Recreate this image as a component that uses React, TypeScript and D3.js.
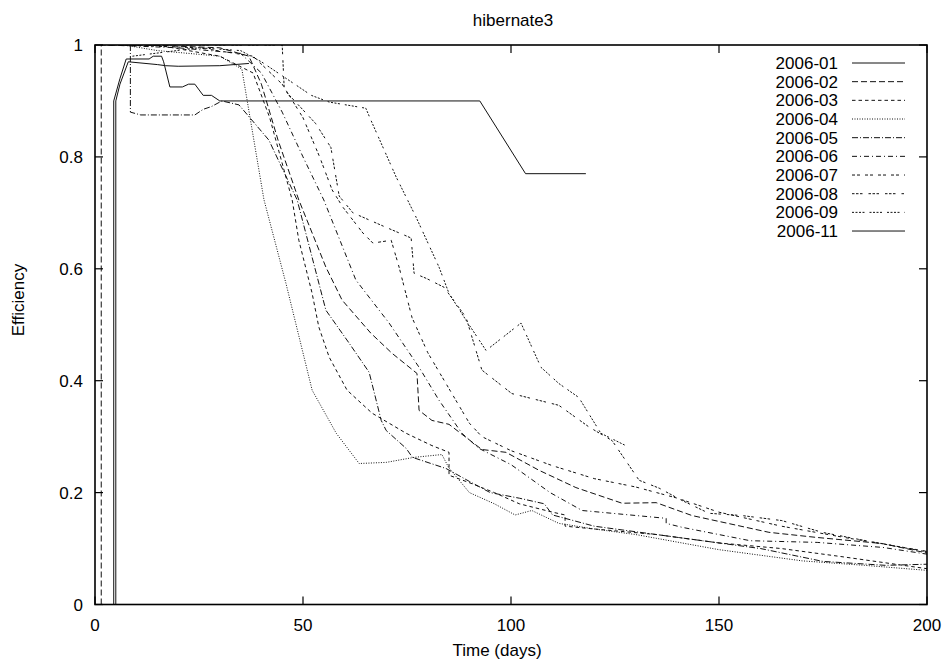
import React from "react";
import * as d3 from "d3";

const seriesNames = ["2006-01","2006-02","2006-03","2006-04","2006-05","2006-06","2006-07","2006-08","2006-09","2006-11"];

const s01: [number, number][] = [[5,0],[5,0.9],[6,0.93],[8,0.97],[15,0.965],[17,0.963],[20,0.962],[30,0.963],[37,0.967]];
const s02: [number, number][] = [[1.5,0],[1.5,1],[12,1],[30,0.995],[37,0.98],[40,0.93],[44,0.83],[49,0.723],[55.5,0.603],[59.4,0.544],[66.3,0.485],[71.4,0.449],[77.4,0.413],[77.9,0.347],[81,0.329],[85.1,0.322],[93,0.277],[98.8,0.272],[106.7,0.24],[115.6,0.209],[126.7,0.181],[134.9,0.182],[143.5,0.159],[162,0.129],[173.3,0.12],[189.2,0.109],[200,0.092]];
const s03: [number, number][] = [[4,1],[15,1],[30,0.98],[38,0.95],[42,0.87],[47.4,0.723],[49,0.651],[52.2,0.556],[53.8,0.496],[56.3,0.442],[60.6,0.383],[66.6,0.342],[74.8,0.306],[81,0.284],[85.1,0.272],[85.1,0.231],[89.9,0.218],[96,0.2],[102,0.18],[110,0.165],[113,0.16],[113,0.14],[120,0.135],[135,0.125],[150,0.11],[165,0.1],[180,0.085],[200,0.064]];
const s04: [number, number][] = [[7,1],[15,0.99],[30,0.98],[35.3,0.957],[40.6,0.724],[45.9,0.574],[52.2,0.383],[58,0.306],[63.5,0.252],[70,0.254],[76.7,0.263],[83.4,0.268],[85,0.245],[90,0.2],[96,0.18],[101,0.16],[105,0.168],[111.5,0.145],[120,0.135],[130,0.125],[150,0.098],[170,0.078],[185,0.07],[200,0.061]];
const s05: [number, number][] = [[8.5,1],[8.5,0.88],[11,0.875],[24,0.875],[26,0.885],[28,0.89],[30.5,0.9],[34.6,0.893],[41.8,0.83],[48.6,0.723],[55.5,0.526],[61.1,0.467],[65.9,0.415],[68.8,0.329],[70,0.311],[74.8,0.279],[76.3,0.263],[84.4,0.243],[90,0.22],[95,0.2],[102,0.19],[108,0.18],[110,0.16],[120,0.14],[130,0.13],[145,0.115],[160,0.1],[175,0.077],[190,0.07],[200,0.072]];
const s06: [number, number][] = [[3,1],[20,0.995],[35,0.985],[40,0.95],[45,0.88],[50,0.8],[55,0.723],[62.7,0.58],[70.7,0.503],[77.9,0.424],[82.7,0.365],[88.2,0.306],[92.3,0.279],[100,0.25],[109.4,0.2],[117.1,0.168],[137.3,0.154],[137.3,0.145],[141.1,0.138],[157.5,0.114],[173.6,0.111],[189.4,0.102],[200,0.09]];
const s07: [number, number][] = [[6,1],[25,0.995],[38,0.98],[45,0.93],[50,0.87],[54,0.8],[57,0.741],[59.6,0.71],[64.4,0.664],[66.8,0.646],[71.2,0.651],[73.1,0.603],[76.2,0.513],[80,0.45],[90,0.324],[93,0.3],[100,0.275],[110,0.248],[120,0.225],[130,0.21],[140,0.19],[150,0.165],[165,0.14],[180,0.12],[200,0.095]];
const s08: [number, number][] = [[9,1],[30,1],[45,1],[45.5,0.92],[48,0.9],[53,0.86],[56.7,0.817],[58.7,0.73],[62,0.7],[70,0.674],[76,0.655],[76.7,0.592],[79.6,0.583],[83.9,0.567],[89.2,0.513],[93,0.419],[100.2,0.377],[111.5,0.356],[118.8,0.317],[124.3,0.293],[130.8,0.222],[135.6,0.208],[141.1,0.186],[147.6,0.163],[155.5,0.159],[165.1,0.15],[174.8,0.129],[185.3,0.114],[200,0.094]];
const s09: [number, number][] = [[9,0.98],[25,0.995],[35,0.99],[40,0.97],[46,0.94],[52,0.91],[56.3,0.898],[65.1,0.887],[66.3,0.866],[72.4,0.764],[77.2,0.692],[82.7,0.603],[85.1,0.556],[89.2,0.508],[94,0.454],[102.4,0.503],[107.2,0.424],[111.5,0.395],[116.3,0.37],[121.6,0.306],[128.4,0.281]];
const s11: [number, number][] = [[4.5,0],[4.5,0.9],[6,0.94],[7.5,0.975],[13,0.975],[14,0.98],[16,0.98],[16.5,0.97],[18,0.925],[21,0.925],[22.5,0.93],[24,0.93],[26,0.91],[28,0.91],[30,0.9],[92.5,0.9],[103.5,0.77],[118,0.77]];

const seriesData = [s01, s02, s03, s04, s05, s06, s07, s08, s09, s11];
const dashes = ["", "6,3", "3.5,3", "1,1.5", "6,2,1,2", "5,3,1,3", "3,2,3,5", "2.5,1.5,2.5,1.5,2.5,6", "2,1.5,2,1.5,2,1.5,2,5", ""];

const xTicks = [0, 50, 100, 150, 200];
const yTicks = [0, 0.2, 0.4, 0.6, 0.8, 1];
const yTickLabels = ["0", "0.2", "0.4", "0.6", "0.8", "1"];

export default function App() {
  const W = 952, H = 669;
  const left = 95, right = 927, top = 45, bottom = 604.5;
  const x = d3.scaleLinear().domain([0, 200]).range([left, right]);
  const y = d3.scaleLinear().domain([0, 1]).range([bottom, top]);
  const line = d3.line<[number, number]>().x(d => x(d[0])).y(d => y(d[1]));
  const font = "'Liberation Sans', Arial, Helvetica, sans-serif";
  const legX = 838, legY0 = 63, legDy = 18.67;
  return (
    <svg width={W} height={H} style={{ position: "absolute", left: 0, top: 0, background: "#fff" }} fontFamily={font}>
      <rect x={0} y={0} width={W} height={H} fill="#fff" />
      <text x={513} y={26} fontSize={17} textAnchor="middle">hibernate3</text>
      <defs>
        <clipPath id="plot"><rect x={left} y={top} width={right - left} height={bottom - top} /></clipPath>
      </defs>
      <g clipPath="url(#plot)">
        {seriesData.map((d, i) => (
          <path key={i} d={line(d) || ""} fill="none" stroke="#111" strokeWidth={1} strokeDasharray={dashes[i] || undefined} />
        ))}
      </g>
      {xTicks.map(t => (
        <g key={"x" + t}>
          <line x1={x(t)} x2={x(t)} y1={bottom} y2={bottom - 8} stroke="#000" strokeWidth={1.2} />
          <line x1={x(t)} x2={x(t)} y1={top} y2={top + 8} stroke="#000" strokeWidth={1.2} />
          <text x={x(t)} y={631} fontSize={17} textAnchor="middle">{t}</text>
        </g>
      ))}
      {yTicks.map((t, i) => (
        <g key={"y" + t}>
          <line x1={left} x2={left + 8} y1={y(t)} y2={y(t)} stroke="#000" strokeWidth={1.2} />
          <line x1={right} x2={right - 8} y1={y(t)} y2={y(t)} stroke="#000" strokeWidth={1.2} />
          <text x={83} y={y(t) + 6} fontSize={17} textAnchor="end">{yTickLabels[i]}</text>
        </g>
      ))}
      <rect x={left} y={top} width={right - left} height={bottom - top} fill="none" stroke="#000" strokeWidth={1.6} />
      {seriesNames.map((n, i) => (
        <g key={n}>
          <text x={legX} y={legY0 + i * legDy + 6} fontSize={17} textAnchor="end">{n}</text>
          <line x1={852} x2={905} y1={legY0 + i * legDy} y2={legY0 + i * legDy} stroke="#111" strokeWidth={1} strokeDasharray={dashes[i] || undefined} />
        </g>
      ))}
      <text x={497} y={656} fontSize={17} textAnchor="middle">Time (days)</text>
      <text transform="translate(24,300) rotate(-90)" fontSize={17} textAnchor="middle">Efficiency</text>
    </svg>
  );
}
